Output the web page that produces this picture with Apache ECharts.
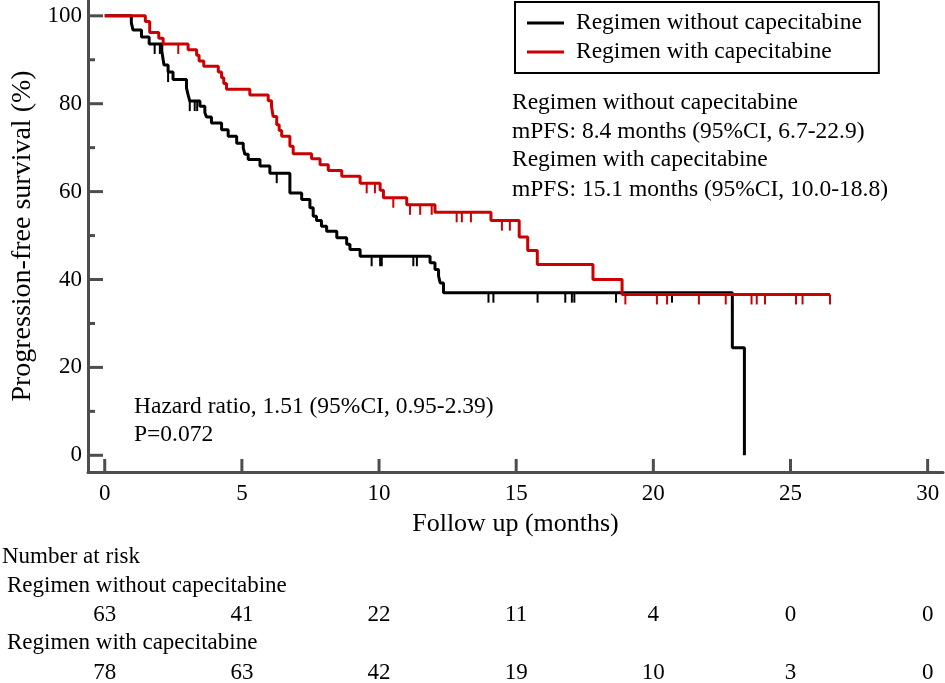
<!DOCTYPE html>
<html>
<head>
<meta charset="UTF-8">
<title>Progression-free survival</title>
<script src="https://cdn.jsdelivr.net/npm/echarts@6/dist/echarts.min.js"></script>
<style>
  html, body { margin: 0; padding: 0; background: #fff; }
  #main { width: 945px; height: 683px; }
</style>
</head>
<body>
<div id="main"></div>
<script>
// ---- data ----
var nameA = 'Regimen without capecitabine';
var nameB = 'Regimen with capecitabine';

// Kaplan-Meier steps, without capecitabine (black)
var timesA = [0, 0.97, 1.03, 1.34, 1.62, 2.08, 2.12, 2.16, 2.31, 2.49, 2.98, 3.04, 3.10, 3.47, 3.65, 3.71, 3.89,
  4.26, 4.50, 4.81, 5.05, 5.11, 5.23, 5.66, 6.02, 6.75, 7.18, 7.48, 7.60, 7.72, 7.90, 8.09, 8.46, 8.82, 8.94,
  9.31, 11.86, 12.04, 12.17, 12.23, 12.35, 22.88, 23.32];
var survA = [100, 98.4, 96.8, 95.2, 93.6, 92.0, 90.4, 88.8, 87.2, 85.5, 83.6, 82.0, 80.6, 79.4, 78.0, 77.0, 75.6,
  74.1, 72.6, 71.0, 69.9, 68.5, 67.3, 65.8, 64.2, 59.7, 58.2, 56.3, 54.4, 53.4, 52.1, 51.0, 49.5, 48.0, 46.8,
  45.3, 43.8, 42.3, 40.8, 39.2, 37.0, 24.5, 0];
var censorA = [1.82, 2.01, 2.31, 3.10, 3.28, 3.37, 6.27, 9.73, 10.04, 10.10, 11.25, 11.38, 13.99, 14.17,
  15.78, 16.79, 17.03, 17.12, 18.64, 20.68];

// Kaplan-Meier steps, with capecitabine (red)
var timesB = [0, 1.48, 1.64, 1.97, 2.13, 3.04, 3.35, 3.44, 3.61, 4.14, 4.26, 4.34, 4.44, 5.29, 5.96, 6.08,
  6.14, 6.27, 6.36, 6.45, 6.75, 6.87, 7.54, 7.85, 8.15, 8.64, 9.31, 10.04, 10.16, 11.01, 12.04, 14.08, 15.11,
  15.42, 15.77, 17.80, 18.86, 26.44];
var survB = [100, 98.7, 96.2, 94.9, 93.6, 92.3, 91.0, 89.7, 88.5, 87.2, 85.9, 84.6, 83.3, 82.0, 80.7, 79.4,
  77.1, 75.2, 73.9, 72.6, 70.3, 68.6, 67.5, 66.1, 64.8, 63.5, 61.9, 60.3, 58.6, 57.0, 55.3, 53.4, 49.7,
  46.6, 43.4, 40.0, 36.6, 36.6];
var censorB = [2.68, 9.55, 9.85, 10.52, 11.13, 11.50, 11.92, 12.83, 13.02, 13.35, 14.48, 14.77, 18.98,
  20.13, 20.50, 21.66, 22.64, 23.58, 23.77, 24.07, 25.20, 25.44, 26.44];

// number at risk
var riskTimes = [0, 5, 10, 15, 20, 25, 30];
var riskA = [63, 41, 22, 11, 4, 0, 0];
var riskB = [78, 63, 42, 19, 10, 3, 0];

// axis ticks
var xTicks = [0, 5, 10, 15, 20, 25, 30];
var yTicks = [0, 20, 40, 60, 80, 100];
var yMinorTicks = [10, 30, 50, 70, 90];

var annoLines = [
  'Regimen without capecitabine',
  'mPFS: 8.4 months (95%CI, 6.7-22.9)',
  'Regimen with capecitabine',
  'mPFS: 15.1 months (95%CI, 10.0-18.8)'
];
var hrLines = ['Hazard ratio, 1.51 (95%CI, 0.95-2.39)', 'P=0.072'];

// ---- helpers ----
var FONT = 'Liberation Serif';
var RED = '#cc0000';
var AXIS = '#4d4d4d';
var X_RANGE = { min: -0.61, max: 30.56 };
var Y_RANGE = { min: -3.8, max: 103.6 };

function pairs(xs, ys) {
  var out = [];
  for (var i = 0; i < xs.length; i++) out.push([xs[i], ys[i]]);
  return out;
}
function survivalAt(xs, ys, t) {
  var s = ys[0];
  for (var i = 0; i < xs.length; i++) {
    if (xs[i] <= t) s = ys[i];
  }
  return s;
}
function censorPoints(cs, xs, ys) {
  return cs.map(function (t) { return [t, survivalAt(xs, ys, t)]; });
}
function riskPoints(ts, ns, row) {
  return ts.map(function (t, i) { return [t, row, ns[i]]; });
}
// inward tick marks drawn on the axis lines (through the axes' own scales)
function tickSeries(points, size, offset) {
  return {
    type: 'scatter', xAxisIndex: 0, yAxisIndex: 0, data: points,
    symbol: 'rect', symbolSize: size, symbolOffset: offset,
    itemStyle: { color: AXIS, opacity: 1 }, silent: true, clip: false, z: 5
  };
}

var graphics = [];
annoLines.forEach(function (s, i) {
  graphics.push({ type: 'text', left: 512, top: [91, 120, 148, 178][i],
    style: { text: s, font: '23.5px "' + FONT + '"', fill: '#000' } });
});
hrLines.forEach(function (s, i) {
  graphics.push({ type: 'text', left: 134, top: [395, 423][i],
    style: { text: s, font: '23.5px "' + FONT + '"', fill: '#000' } });
});
graphics.push({ type: 'text', left: 2, top: 545, style: { text: 'Number at risk', font: '23px "' + FONT + '"', fill: '#000' } });
graphics.push({ type: 'text', left: 7, top: 574, style: { text: nameA, font: '23px "' + FONT + '"', fill: '#000' } });
graphics.push({ type: 'text', left: 7, top: 631, style: { text: nameB, font: '23px "' + FONT + '"', fill: '#000' } });

var chart = echarts.init(document.getElementById('main'));
chart.setOption({
  animation: false,
  backgroundColor: '#fff',
  textStyle: { fontFamily: FONT },
  grid: [
    { left: 88, right: 2, top: 0, bottom: 211, containLabel: false },
    { left: 88, right: 2, top: 615, height: 58, containLabel: false }
  ],
  legend: {
    left: 515, top: 2,
    orient: 'vertical',
    data: [nameA, nameB],
    icon: 'rect',
    itemWidth: 37, itemHeight: 3, itemGap: 5,
    padding: [9, 17, 9, 12],
    borderColor: '#000', borderWidth: 2,
    selectedMode: false,
    textStyle: { fontFamily: FONT, fontSize: 23.5, color: '#000', padding: [0, 0, 0, 7] }
  },
  xAxis: [
    {
      type: 'value', gridIndex: 0, position: 'bottom', min: X_RANGE.min, max: X_RANGE.max,
      name: 'Follow up (months)', nameLocation: 'middle', nameGap: 39,
      nameTextStyle: { fontFamily: FONT, fontSize: 26, color: '#000' },
      axisLine: { show: true, onZero: false, lineStyle: { color: AXIS, width: 3 } },
      axisTick: { show: false },
      axisLabel: { customValues: xTicks, margin: 10, fontFamily: FONT, fontSize: 23, color: '#000' },
      splitLine: { show: false }
    },
    { type: 'value', gridIndex: 1, min: X_RANGE.min, max: X_RANGE.max, show: false }
  ],
  yAxis: [
    {
      type: 'value', gridIndex: 0, position: 'left', min: Y_RANGE.min, max: Y_RANGE.max,
      name: 'Progression-free survival (%)', nameLocation: 'middle', nameGap: 49,
      nameTextStyle: { fontFamily: FONT, fontSize: 28, color: '#000' },
      axisLine: { show: true, onZero: false, lineStyle: { color: AXIS, width: 3 } },
      axisTick: { show: false },
      axisLabel: { customValues: yTicks, margin: 6, fontFamily: FONT, fontSize: 23, color: '#000' },
      splitLine: { show: false }
    },
    { type: 'value', gridIndex: 1, min: 0, max: 1, inverse: true, show: false }
  ],
  series: [
    tickSeries(yTicks.map(function (v) { return [X_RANGE.min, v]; }), [15, 3], [7.5, 0]),
    tickSeries(yMinorTicks.map(function (v) { return [X_RANGE.min, v]; }), [7, 3], [3.5, 0]),
    tickSeries(xTicks.map(function (v) { return [v, Y_RANGE.min]; }), [3, 13], [0, -6.5]),
    {
      name: nameA, type: 'line', step: 'end', xAxisIndex: 0, yAxisIndex: 0,
      data: pairs(timesA, survA), showSymbol: false, symbol: 'none',
      lineStyle: { color: '#000', width: 3 }, itemStyle: { color: '#000' }, z: 2
    },
    {
      name: 'censA', type: 'scatter', xAxisIndex: 0, yAxisIndex: 0,
      data: censorPoints(censorA, timesA, survA),
      symbol: 'rect', symbolSize: [2, 10], symbolOffset: [0, 5],
      itemStyle: { color: '#000', opacity: 1 }, z: 2
    },
    {
      name: nameB, type: 'line', step: 'end', xAxisIndex: 0, yAxisIndex: 0,
      data: pairs(timesB, survB), showSymbol: false, symbol: 'none',
      lineStyle: { color: RED, width: 3 }, itemStyle: { color: RED }, z: 3
    },
    {
      name: 'censB', type: 'scatter', xAxisIndex: 0, yAxisIndex: 0,
      data: censorPoints(censorB, timesB, survB),
      symbol: 'rect', symbolSize: [2, 10], symbolOffset: [0, 5],
      itemStyle: { color: RED, opacity: 1 }, z: 3
    },
    {
      name: 'riskTable', type: 'scatter', xAxisIndex: 1, yAxisIndex: 1,
      data: riskPoints(riskTimes, riskA, 0).concat(riskPoints(riskTimes, riskB, 1)),
      symbolSize: 0, silent: true,
      itemStyle: { opacity: 1 },
      label: {
        show: true, position: 'inside', color: '#000', fontFamily: FONT, fontSize: 23, opacity: 1,
        formatter: function (p) { return String(p.value[2]); }
      }
    }
  ],
  graphic: graphics
});
</script>
</body>
</html>
